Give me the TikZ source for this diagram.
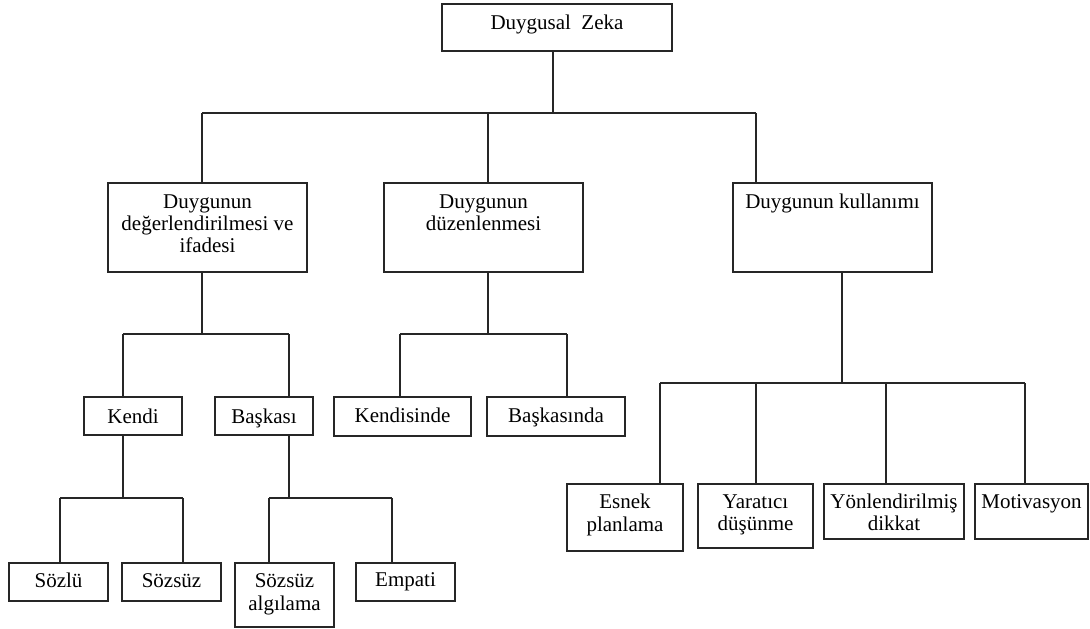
\documentclass[tikz,border=0pt]{standalone}
\usepackage{fontspec}
\setmainfont{Liberation Serif}
\tikzset{
  bx/.style={draw=black!85, line width=1.2pt, inner sep=0pt, outer sep=0pt},
  ln/.style={draw=black!85, line width=1.2pt},
}
\newcommand{\bt}[5]{\parbox[c][#2][t]{#1}{\centering\fontsize{21}{#4}\selectfont\rule{0pt}{#3}#5\par}}
\begin{document}
\begin{tikzpicture}[x=1pt,y=-1pt]
\useasboundingbox (0,0) rectangle (1090,629);
% boxes
\node[bx] (zeka) at (557,27.5) {\bt{230pt}{47pt}{25pt}{22pt}{Duygusal\ \ Zeka}};
\node[bx] (b1) at (207.5,227.5) {\bt{199pt}{89pt}{25pt}{22pt}{Duygunun\\ değerlendirilmesi ve\\ ifadesi}};
\node[bx] (b2) at (483.5,227.5) {\bt{199pt}{89pt}{25pt}{22pt}{Duygunun\\ düzenlenmesi}};
\node[bx] (b3) at (832.5,227.5) {\bt{199pt}{89pt}{25pt}{22pt}{Duygunun kullanımı}};
\node[bx] (kendi) at (133,416) {\bt{98pt}{38pt}{26pt}{22pt}{Kendi}};
\node[bx] (baskasi) at (264,416) {\bt{98pt}{38pt}{26pt}{22pt}{Başkası}};
\node[bx] (kendisinde) at (402.5,416.5) {\bt{137pt}{39pt}{25pt}{22pt}{Kendisinde}};
\node[bx] (baskasinda) at (556,416.5) {\bt{138pt}{39pt}{25pt}{22pt}{Başkasında}};
\node[bx] (sozlu) at (58.5,582) {\bt{99pt}{38pt}{24pt}{22pt}{Sözlü}};
\node[bx] (sozsuz) at (171.5,582) {\bt{99pt}{38pt}{24pt}{22pt}{Sözsüz}};
\node[bx] (sozalg) at (284.5,595) {\bt{99pt}{64pt}{24pt}{23pt}{Sözsüz\\ algılama}};
\node[bx] (empati) at (405.5,582) {\bt{99pt}{38pt}{23pt}{22pt}{Empati}};
\node[bx] (esnek) at (625,517.5) {\bt{116pt}{67pt}{24pt}{23pt}{Esnek\\ planlama}};
\node[bx] (yaratici) at (755.5,516) {\bt{115pt}{64pt}{24pt}{22pt}{Yaratıcı\\ düşünme}};
\node[bx] (yonlen) at (894,511.5) {\bt{140pt}{55pt}{24pt}{22pt}{Yönlendirilmiş\\ dikkat}};
\node[bx] (motiv) at (1031.5,511.5) {\bt{113pt}{55pt}{24pt}{22pt}{Motivasyon}};
% junctions
\coordinate (j0) at (553,113);
\coordinate (t1) at (202,113);
\coordinate (t2) at (488,113);
\coordinate (t3) at (756,113);
\coordinate (j1) at (202,334);
\coordinate (k1) at (123,334);
\coordinate (k2) at (289,334);
\coordinate (j2) at (488,334);
\coordinate (m1) at (400,334);
\coordinate (m2) at (567,334);
\coordinate (j3) at (842,383);
\coordinate (n1) at (660,383);
\coordinate (n2) at (756,383);
\coordinate (n3) at (886,383);
\coordinate (n4) at (1025,383);
\coordinate (j4) at (123,498);
\coordinate (p1) at (60,498);
\coordinate (p2) at (183,498);
\coordinate (j5) at (289,498);
\coordinate (q1) at (269,498);
\coordinate (q2) at (392,498);
% connectors
\draw[ln] (zeka.south -| j0) -- (j0);
\draw[ln] (t1) -- (t3);
\draw[ln] (t1) -- (t1 |- b1.north);
\draw[ln] (t2) -- (t2 |- b2.north);
\draw[ln] (t3) -- (t3 |- b3.north);
\draw[ln] (b1.south -| j1) -- (j1);
\draw[ln] (k1) -- (k2);
\draw[ln] (k1) -- (k1 |- kendi.north);
\draw[ln] (k2) -- (k2 |- baskasi.north);
\draw[ln] (b2.south -| j2) -- (j2);
\draw[ln] (m1) -- (m2);
\draw[ln] (m1) -- (m1 |- kendisinde.north);
\draw[ln] (m2) -- (m2 |- baskasinda.north);
\draw[ln] (b3.south -| j3) -- (j3);
\draw[ln] (n1) -- (n4);
\draw[ln] (n1) -- (n1 |- esnek.north);
\draw[ln] (n2) -- (n2 |- yaratici.north);
\draw[ln] (n3) -- (n3 |- yonlen.north);
\draw[ln] (n4) -- (n4 |- motiv.north);
\draw[ln] (kendi.south -| j4) -- (j4);
\draw[ln] (p1) -- (p2);
\draw[ln] (p1) -- (p1 |- sozlu.north);
\draw[ln] (p2) -- (p2 |- sozsuz.north);
\draw[ln] (baskasi.south -| j5) -- (j5);
\draw[ln] (q1) -- (q2);
\draw[ln] (q1) -- (q1 |- sozalg.north);
\draw[ln] (q2) -- (q2 |- empati.north);
\end{tikzpicture}
\end{document}
